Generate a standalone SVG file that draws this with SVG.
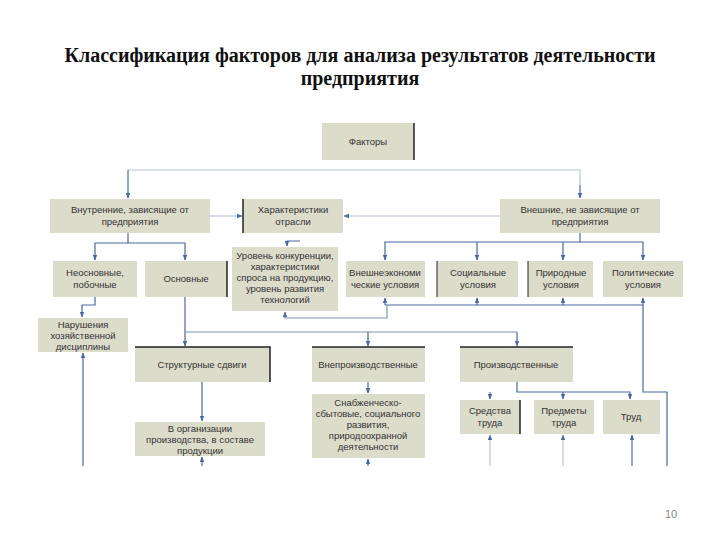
<svg xmlns="http://www.w3.org/2000/svg" width="720" height="540" viewBox="0 0 720 540">
<defs>
<marker id="ah" viewBox="0 0 10 10" refX="9" refY="5" markerWidth="6" markerHeight="6" orient="auto-start-reverse" markerUnits="userSpaceOnUse">
<path d="M0,1 L10,5 L0,9 z" fill="#4a68a2"/>
</marker>
</defs>
<style>
.box{fill:#dcdcca;}
.dk{stroke:#222;stroke-width:1.5;}
.t{font-family:"Liberation Sans",Arial,sans-serif;font-size:9.5px;fill:#333;text-anchor:middle;}
.title{font-family:"Liberation Serif","Times New Roman",serif;font-size:20px;font-weight:bold;fill:#111;text-anchor:middle;}
.c{fill:none;stroke:#4a68a2;stroke-width:1.2;}
.cl{fill:none;stroke:#b8c4d2;stroke-width:1.2;}
.cm{fill:none;stroke:#7d93b8;stroke-width:1.2;}
</style>
<rect width="720" height="540" fill="#fff"/>
<text class="title" x="360" y="62">Классификация факторов для анализа результатов деятельности</text>
<text class="title" x="360" y="85">предприятия</text>

<g id="connectors">
<path class="cl" d="M128,170 H580"/>
<path class="c" d="M128,170 V198" marker-end="url(#ah)"/>
<path class="cl" d="M580,170 V185"/>
<path class="c" d="M580,185 V198" marker-end="url(#ah)"/>
<path class="cl" d="M210,216 H242" marker-end="url(#ah)"/>
<path class="cl" d="M500,216 H344" marker-end="url(#ah)"/>
<path class="c" d="M300,241 H287 V246" marker-end="url(#ah)"/>
<path class="c" d="M128,233 V243 H185 V260" marker-end="url(#ah)"/>
<path class="c" d="M128,243 H95 V260" marker-end="url(#ah)"/>
<path class="c" d="M580,233 V242 H643 V260" marker-end="url(#ah)"/>
<path class="c" d="M580,242 H385 V260" marker-end="url(#ah)"/>
<path class="c" d="M477,242 V260" marker-end="url(#ah)"/>
<path class="c" d="M563,242 V260" marker-end="url(#ah)"/>
<path class="c" d="M643,305 V298" marker-end="url(#ah)"/>
<path class="c" d="M385,305 H643"/>
<path class="c" d="M385,305 V298" marker-end="url(#ah)"/>
<path class="c" d="M477,305 V298" marker-end="url(#ah)"/>
<path class="c" d="M563,305 V298" marker-end="url(#ah)"/>
<path class="cm" d="M387,305 V318 H285 V312" marker-end="url(#ah)"/>
<path class="c" d="M643,305 V392 H667 V466"/>
<path class="c" d="M95,297 V305 H82 V317" marker-end="url(#ah)"/>
<path class="c" d="M185,297 V346" marker-end="url(#ah)"/>
<path class="cm" d="M185,332 H517"/>
<path class="c" d="M368,332 V346" marker-end="url(#ah)"/>
<path class="c" d="M517,332 V346" marker-end="url(#ah)"/>
<path class="c" d="M202,382 V421" marker-end="url(#ah)"/>
<path class="c" d="M368,382 V393" marker-end="url(#ah)"/>
<path class="c" d="M517,382 V392 H630 V399" marker-end="url(#ah)"/>
<path class="c" d="M490,392 V399" marker-end="url(#ah)"/>
<path class="c" d="M563,392 V399" marker-end="url(#ah)"/>
<path class="c" d="M83,466 V353" marker-end="url(#ah)"/>
<path class="c" d="M202,466 V457" marker-end="url(#ah)"/>
<path class="c" d="M368,466 V459" marker-end="url(#ah)"/>
<path class="cl" d="M490,466 V435" marker-end="url(#ah)"/>
<path class="cl" d="M563,466 V435" marker-end="url(#ah)"/>
<path class="c" d="M632,466 V435" marker-end="url(#ah)"/>
</g>

<g id="faktory"><rect class="box" x="322" y="123" width="92" height="37"/><line class="dk" x1="414" y1="123" x2="414" y2="160"/><text class="t" x="368" y="145">Факторы</text></g>
<g id="vnutr"><rect class="box" x="50" y="199" width="160" height="34"/><text class="t" x="130" y="213">Внутренние, зависящие от</text><text class="t" x="130" y="225">предприятия</text></g>
<g id="harakt"><rect class="box" x="243" y="199" width="100" height="34"/><line class="dk" x1="243" y1="199" x2="243" y2="233"/><text class="t" x="293" y="213">Характеристики</text><text class="t" x="293" y="225">отрасли</text></g>
<g id="vnesh"><rect class="box" x="500" y="199" width="160" height="34"/><text class="t" x="580" y="213">Внешние, не зависящие от</text><text class="t" x="580" y="225">предприятия</text></g>
<g id="neosn"><rect class="box" x="53" y="261" width="84" height="36"/><text class="t" x="95" y="276">Неосновные,</text><text class="t" x="95" y="288">побочные</text></g>
<g id="osn"><rect class="box" x="145" y="261" width="82" height="36"/><line class="dk" x1="227" y1="261" x2="227" y2="297"/><text class="t" x="186" y="282">Основные</text></g>
<g id="uroven"><rect class="box" x="232" y="247" width="106" height="64"/><text class="t" x="285" y="259">Уровень конкуренции,</text><text class="t" x="285" y="270">характеристики</text><text class="t" x="285" y="281">спроса на продукцию,</text><text class="t" x="285" y="292">уровень развития</text><text class="t" x="285" y="303">технологий</text></g>
<g id="vneshek"><rect class="box" x="346" y="261" width="79" height="36"/><text class="t" x="385" y="276">Внешнеэкономи</text><text class="t" x="385" y="288">ческие условия</text></g>
<g id="social"><rect class="box" x="437" y="261" width="81" height="36"/><line class="dk" x1="437" y1="261" x2="437" y2="297" style="stroke-width:1"/><text class="t" x="478" y="276">Социальные</text><text class="t" x="478" y="288">условия</text></g>
<g id="prirod"><rect class="box" x="528" y="261" width="65" height="36"/><line class="dk" x1="528" y1="261" x2="528" y2="297" style="stroke-width:1"/><text class="t" x="561" y="276">Природные</text><text class="t" x="561" y="288">условия</text></g>
<g id="polit"><rect class="box" x="603" y="261" width="80" height="36"/><text class="t" x="643" y="276">Политические</text><text class="t" x="643" y="288">условия</text></g>
<g id="narush"><rect class="box" x="38" y="318" width="90" height="34"/><text class="t" x="83" y="328">Нарушения</text><text class="t" x="83" y="339">хозяйственной</text><text class="t" x="83" y="350">дисциплины</text></g>
<g id="struct"><rect class="box" x="135" y="347" width="135" height="35"/><path class="dk" d="M135,347 H270 V382" fill="none"/><text class="t" x="202" y="368">Структурные сдвиги</text></g>
<g id="vnepr"><rect class="box" x="312" y="347" width="113" height="35"/><line class="dk" x1="312" y1="347" x2="425" y2="347"/><text class="t" x="368" y="368">Внепроизводственные</text></g>
<g id="proizv"><rect class="box" x="460" y="347" width="113" height="35"/><line class="dk" x1="460" y1="347" x2="573" y2="347"/><text class="t" x="516" y="368">Производственные</text></g>
<g id="vorg"><rect class="box" x="135" y="422" width="130" height="34"/><text class="t" x="200" y="432">В организации</text><text class="t" x="200" y="443">производства, в составе</text><text class="t" x="200" y="454">продукции</text></g>
<g id="snab"><rect class="box" x="312" y="394" width="113" height="64"/><text class="t" x="368" y="406">Снабженческо-</text><text class="t" x="368" y="417">сбытовые, социального</text><text class="t" x="368" y="428">развития,</text><text class="t" x="368" y="439">природоохранной</text><text class="t" x="368" y="450">деятельности</text></g>
<g id="sredstva"><rect class="box" x="460" y="400" width="60" height="34"/><line class="dk" x1="520" y1="400" x2="520" y2="434"/><text class="t" x="490" y="414">Средства</text><text class="t" x="490" y="426">труда</text></g>
<g id="predmety"><rect class="box" x="534" y="400" width="60" height="34"/><text class="t" x="564" y="414">Предметы</text><text class="t" x="564" y="426">труда</text></g>
<g id="trud"><rect class="box" x="603" y="400" width="57" height="34"/><text class="t" x="631" y="420">Труд</text></g>
<text x="671" y="518" font-family="Liberation Sans,Arial,sans-serif" font-size="11" fill="#888" text-anchor="middle">10</text>
</svg>
